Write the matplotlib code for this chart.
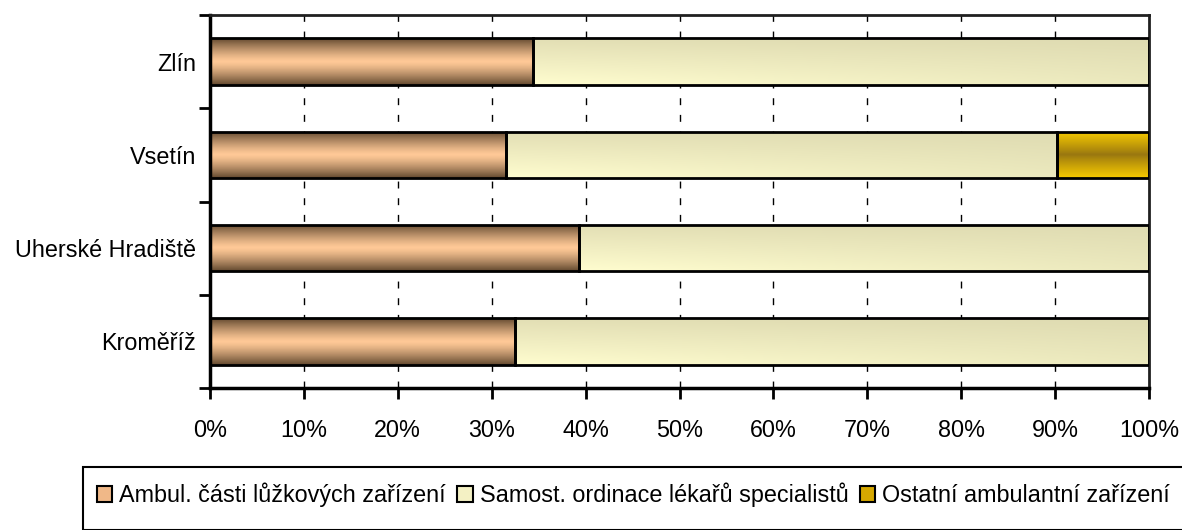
import numpy as np
import matplotlib
matplotlib.use("Agg")
import matplotlib.pyplot as plt
from matplotlib.patches import Rectangle
from matplotlib.colors import to_rgb

plt.rcParams['font.family'] = ['Liberation Sans', 'DejaVu Sans']

categories = ["Kroměříž", "Uherské Hradiště", "Vsetín", "Zlín"]
series_names = ["Ambul. části lůžkových zařízení",
                "Samost. ordinace lékařů specialistů",
                "Ostatní ambulantní zařízení"]
ambul = [32.5, 39.3, 31.5, 34.4]
samost = [67.5, 60.7, 58.7, 65.6]
ostatni = [0.0, 0.0, 9.8, 0.0]
xtick_labels = ["0%", "10%", "20%", "30%", "40%", "50%", "60%", "70%", "80%", "90%", "100%"]

W, H = 1182, 530
FS = 16.8
fig = plt.figure(figsize=(W / 100, H / 100), dpi=100)
ax = fig.add_axes([210 / W, 1 - 388 / H, (1149 - 210) / W, (388 - 15) / H])

y = np.arange(len(categories))
bar_h = 0.5


def grad_vertical(c_edge, c_mid, n=64, p=1.3):
    t = np.linspace(0, 1, n)
    w = np.abs(t - 0.5) * 2  # 0 at centre, 1 at edges
    w = w ** p
    ce, cm = np.array(to_rgb(c_edge)), np.array(to_rgb(c_mid))
    col = cm[None, :] * (1 - w[:, None]) + ce[None, :] * w[:, None]
    return col[:, None, :]


def grad_samost(n=64, m=64):
    t = np.linspace(0, 1, n)[:, None]   # 0 top -> 1 bottom
    s = np.linspace(0, 1, m)[None, :]   # 0 left -> 1 right
    top = np.array(to_rgb("#fffdcf"))
    bot = np.array(to_rgb("#e2deb4"))
    right = np.array(to_rgb("#dcd9b0"))
    base = top[None, None, :] * (1 - t[..., None]) + bot[None, None, :] * t[..., None]
    k = (0.55 * s)[..., None]
    return base * (1 - k) + right[None, None, :] * k


fills = [
    lambda: grad_vertical("#644a30", "#ffc997"),
    lambda: grad_samost(),
    lambda: grad_vertical("#f7ca00", "#987610", p=0.9),
]
solid = ["#f0b888", "#f4f1c4", "#d6a800"]

left = np.zeros(len(categories))
for vals, mk, sc in zip([ambul, samost, ostatni], fills, solid):
    vals = np.array(vals)
    bars = ax.barh(y, vals, left=left, height=bar_h, color='none',
                   edgecolor='black', linewidth=2.0, zorder=3)
    for b, v in zip(bars, vals):
        if v <= 0:
            b.set_visible(False)
            continue
        x0, y0 = b.get_x(), b.get_y()
        img = mk()
        im = ax.imshow(img, extent=[x0, x0 + b.get_width(), y0 + b.get_height(), y0],
                       aspect='auto', interpolation='bilinear', zorder=2, origin='upper')
        im.set_clip_path(b)
    left = left + vals

ax.set_xlim(0, 100)
ax.set_ylim(-0.5, len(categories) - 0.5)

# grid
ax.set_xticks(np.arange(0, 101, 10))
ax.set_xticklabels(xtick_labels, fontsize=FS)
for xv in np.arange(10, 100, 10):
    ax.axvline(xv, color='black', lw=1.0, ls=(0, (5, 7)), zorder=1)

ax.set_yticks(np.arange(-0.5, len(categories), 1.0))
ax.set_yticklabels([])
ax.set_yticks(y, minor=True)
ax.set_yticklabels(categories, minor=True, fontsize=FS)
ax.tick_params(axis='y', which='minor', length=0, pad=10)
ax.tick_params(axis='y', which='major', length=8, width=2, direction='out')
ax.tick_params(axis='x', length=8, width=2, direction='out', pad=14)

for s in ['left', 'bottom']:
    ax.spines[s].set_linewidth(2.5)
    ax.spines[s].set_color('black')
for s in ['top', 'right']:
    ax.spines[s].set_linewidth(2.0)
    ax.spines[s].set_color('#202020')

# legend box
fig.patches.append(Rectangle((83 / W, 0), 1.2, 1 - 467 / H, transform=fig.transFigure,
                             fill=False, edgecolor='black', linewidth=1.5))
handles = [Rectangle((0, 0), 1, 1, facecolor=c, edgecolor='black', linewidth=1.5) for c in solid]
fig.legend(handles, series_names, loc='center left', bbox_to_anchor=(97 / W, 1 - 495 / H),
           ncol=3, frameon=False, fontsize=FS, handlelength=0.65, handleheight=0.65,
           handletextpad=0.3, columnspacing=0.5, borderpad=0, borderaxespad=0)

fig.savefig("out.png", dpi=100)
